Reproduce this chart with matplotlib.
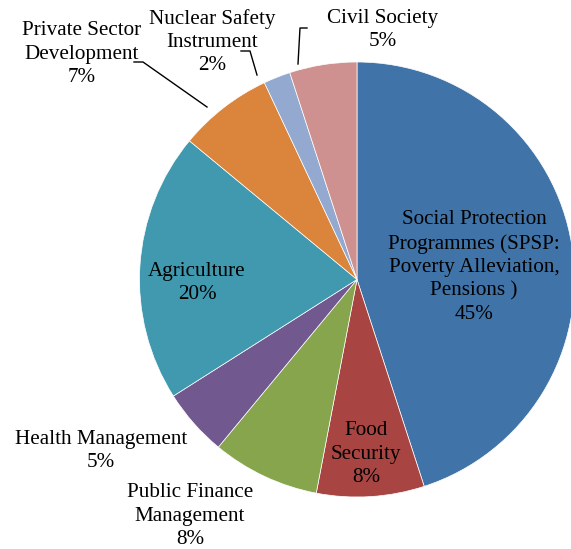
#!/usr/bin/env python3
"""Pie chart of programme allocation by sector (share of total, %)."""
import matplotlib
matplotlib.use("Agg")
import matplotlib.pyplot as plt  # noqa: E402

# clockwise from 12 o'clock
SECTORS = [
    "Social Protection\nProgrammes (SPSP:\nPoverty Alleviation,\nPensions )",
    "Food\nSecurity",
    "Public Finance\nManagement",
    "Health Management",
    "Agriculture",
    "Private Sector\nDevelopment",
    "Nuclear Safety\nInstrument",
    "Civil Society",
]
SHARES = [45, 8, 8, 5, 20, 7, 2, 5]
COLORS = ["#4073A7", "#A84542", "#86A54C", "#71588F",
          "#4099AF", "#DB843B", "#93A9CF", "#CE918F"]

W, H = 571, 549
CENTER = (357, 279.5)      # pixels, from top-left
RADIUS = 217.5
FONT = "Liberation Serif"
FONT_SIZE = 15.2

# label centre (px from top-left) and optional leader polyline
LABEL_POS = [(474, 267), (366, 454), (190, 516), (101, 451),
             (197, 283), (82, 54), (212, 42), (383, 30)]
LEADERS = {
    5: [(134, 62), (143, 62), (207, 107)],
    6: [(241, 51), (250, 51), (257, 75)],
    7: [(307, 28), (300, 28), (298, 64)],
}


def _y(y):
    return H - y


def main():
    fig = plt.figure(figsize=(W / 100, H / 100), dpi=100)
    ax = fig.add_axes([0, 0, 1, 1])

    ax.pie(SHARES, colors=COLORS, startangle=90, counterclock=False,
           radius=RADIUS, center=(CENTER[0], _y(CENTER[1])),
           wedgeprops=dict(edgecolor="white", linewidth=0.5))
    ax.set_xlim(0, W)
    ax.set_ylim(0, H)
    ax.set_aspect("equal")
    ax.axis("off")

    for name, share, (x, y) in zip(SECTORS, SHARES, LABEL_POS):
        ax.text(x, _y(y), f"{name}\n{share}%", ha="center", va="center",
                family=FONT, fontsize=FONT_SIZE, linespacing=1.3,
                color="black")

    for pts in LEADERS.values():
        ax.plot([p[0] for p in pts], [_y(p[1]) for p in pts],
                color="black", linewidth=1.0)

    fig.savefig("out.png", dpi=100)
    plt.close(fig)


if __name__ == "__main__":
    main()
